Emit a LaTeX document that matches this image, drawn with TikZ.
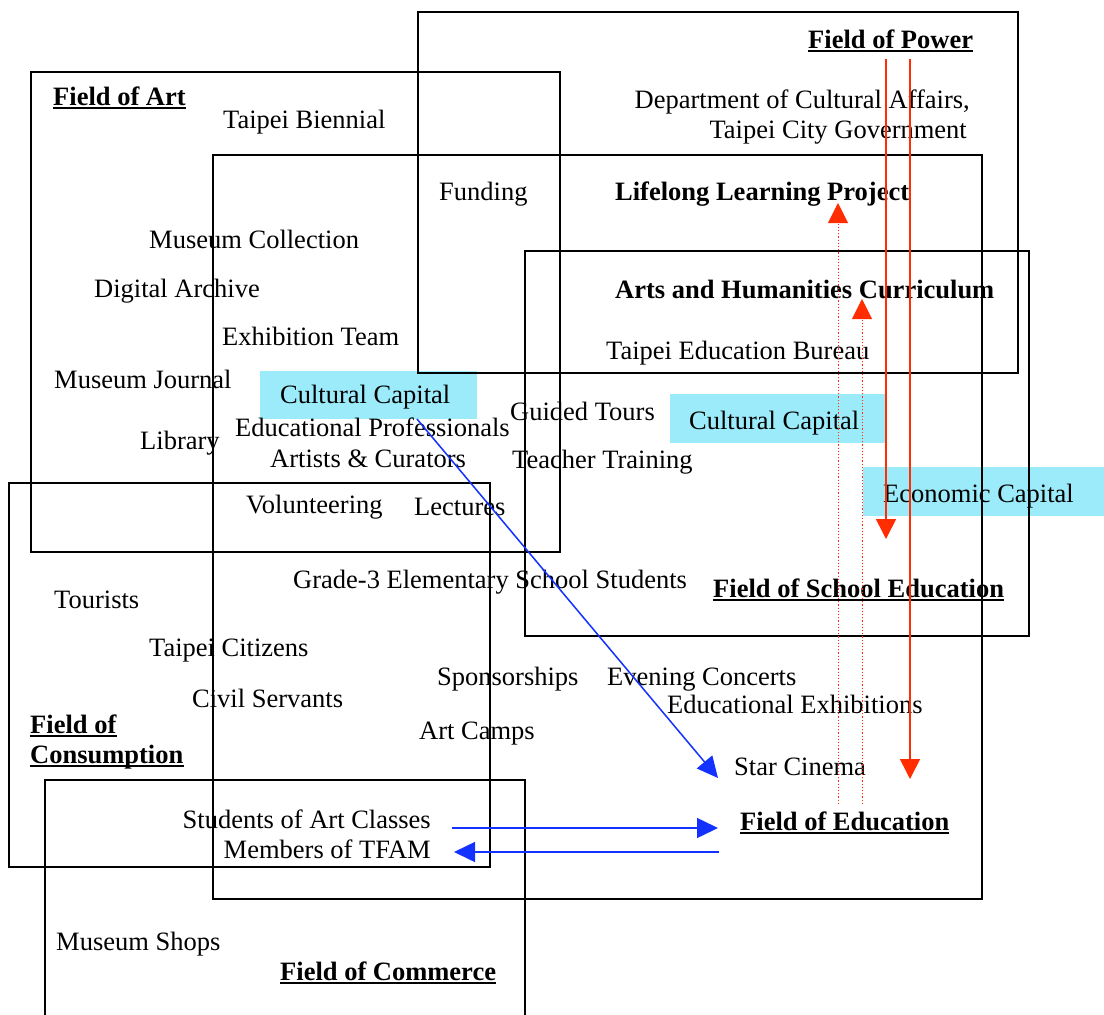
\documentclass[tikz,border=0pt]{standalone}
\usepackage{fontspec}
\setmainfont{Liberation Serif}
\usetikzlibrary{arrows.meta}
\definecolor{capcyan}{RGB}{155,235,250}
\definecolor{redarr}{RGB}{255,45,0}
\definecolor{bluearr}{RGB}{20,50,255}
\begin{document}
\begin{tikzpicture}[x=1pt,y=-1pt,
  field/.style={draw=black, line width=1.7pt},
  txt/.style={font=\fontsize{26.5}{31}\selectfont, inner sep=0pt, anchor=base west},
  btxt/.style={font=\fontsize{26.5}{31}\selectfont\bfseries, inner sep=0pt, anchor=base west},
  ul/.style={draw=black, line width=1.8pt},
  capbox/.style={fill=capcyan},
  redline/.style={draw=redarr, line width=1.6pt, -{Triangle[length=20pt,width=20pt]}},
  reddot/.style={draw=redarr, line width=1pt, dash pattern=on 1.2pt off 2pt, -{Triangle[length=20pt,width=20pt]}},
  bluearrow/.style={draw=bluearr, line width=1.5pt, -{Triangle[length=21pt,width=20pt]}}
]
\useasboundingbox (0,0) rectangle (1104,1015);
\clip (0,0) rectangle (1104,1015);
\fill[white] (0,0) rectangle (1104,1015);

% capital boxes
\fill[capbox] (260,371) rectangle (477,419);
\fill[capbox] (670,394) rectangle (887,443);
\fill[capbox] (863,467) rectangle (1110,516);

% plain texts
\node[txt] (tb) at (223,128) {Taipei Biennial};
\node[txt,anchor=base east] (dca) at (970,108) {Department of Cultural Affairs,};
\node[txt,anchor=base east] (tcg) at (967,138) {Taipei City Government};
\node[txt] (fund) at (439,200) {Funding};
\node[txt] (mc) at (149,248) {Museum Collection};
\node[txt] (da) at (94,297) {Digital Archive};
\node[txt] (et) at (222,345) {Exhibition Team};
\node[txt] (teb) at (606,359) {Taipei Education Bureau};
\node[txt] (mj) at (54,388) {Museum Journal};
\node[txt] (cc1) at (280,403) {Cultural Capital};
\node[txt] (gt) at (510,420) {Guided Tours};
\node[txt] (cc2) at (689,429) {Cultural Capital};
\node[txt] (ep) at (235,436) {Educational Professionals};
\node[txt] (lib) at (140,449) {Library};
\node[txt] (ac) at (270,467) {Artists \& Curators};
\node[txt] (tt) at (512,468) {Teacher Training};
\node[txt] (ec) at (883,502) {Economic Capital};
\node[txt] (vol) at (246,513) {Volunteering};
\node[txt] (lec) at (414,515) {Lectures};
\node[txt] (g3) at (293,588) {Grade-3 Elementary School Students};
\node[txt] (tour) at (54,608) {Tourists};
\node[txt] (tc) at (149,656) {Taipei Citizens};
\node[txt] (sp) at (437,685) {Sponsorships};
\node[txt] (evc) at (607,685) {Evening Concerts};
\node[txt] (cs) at (192,707) {Civil Servants};
\node[txt] (ee) at (667,713) {Educational Exhibitions};
\node[txt] (acamp) at (419,739) {Art Camps};
\node[txt] (sc) at (734,775) {Star Cinema};
\node[txt,anchor=base east] (sac) at (431,828) {Students of Art Classes};
\node[txt,anchor=base east] (mt) at (431,858) {Members of TFAM};
\node[txt] (ms) at (56,950) {Museum Shops};

% bold texts
\node[btxt] (llp) at (615,200) {Lifelong Learning Project};
\node[btxt] (ahc) at (615,298) {Arts and Humanities Curriculum};
\node[btxt] (fpow) at (808,48) {Field of Power};
\node[btxt] (fart) at (53,105) {Field of Art};
\node[btxt] (fse) at (713,597) {Field of School Education};
\node[btxt] (fcon1) at (30,733) {Field of};
\node[btxt] (fcon2) at (30,763) {Consumption};
\node[btxt] (fedu) at (740,830) {Field of Education};
\node[btxt] (fcom) at (280,980) {Field of Commerce};
\foreach \n in {fpow,fart,fse,fcon1,fcon2,fedu,fcom}
  \draw[ul] ([yshift=-3pt]\n.base west) -- ([yshift=-3pt]\n.base east);

% field rectangles
\draw[field] (418,12) rectangle (1018,373);
\draw[field] (31,72) rectangle (560,552);
\draw[field] (213,155) rectangle (982,899);
\draw[field] (525,251) rectangle (1029,636);
\draw[field] (9,483) rectangle (490,867);
\draw[field] (45,1030) -- (45,780) -- (525,780) -- (525,1030);

% red arrows
\coordinate (r1s) at (886,59);
\coordinate (r1e) at (886,539);
\coordinate (r2s) at (910,59);
\coordinate (r2e) at (910,779);
\coordinate (d1s) at (838,804);
\coordinate (d1e) at (838,203);
\coordinate (d2s) at (862,804);
\coordinate (d2e) at (862,299);
\draw[redline] (r1s) -- (r1e);
\draw[redline] (r2s) -- (r2e);
\draw[reddot] (d1s) -- (d1e);
\draw[reddot] (d2s) -- (d2e);

% blue arrows
\coordinate (b1s) at (417,419);
\coordinate (b1e) at (718,778);
\coordinate (b2s) at (452,828);
\coordinate (b2e) at (718,828);
\coordinate (b3s) at (719,852);
\coordinate (b3e) at (454,852);
\draw[bluearrow] (b1s) -- (b1e);
\draw[bluearrow] (b2s) -- (b2e);
\draw[bluearrow] (b3s) -- (b3e);
\end{tikzpicture}
\end{document}
